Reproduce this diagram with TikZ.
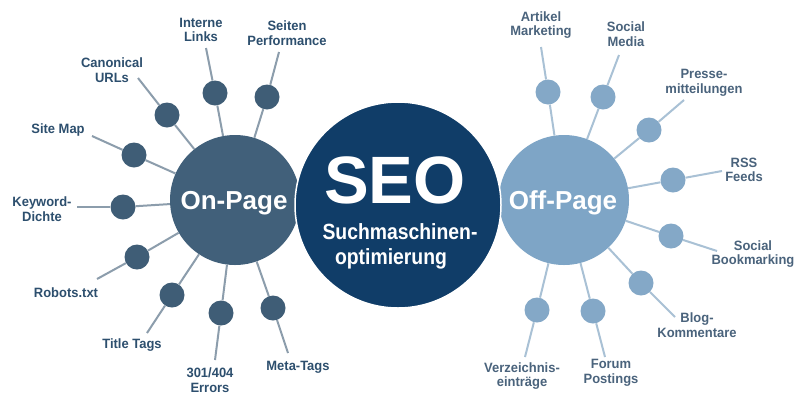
\documentclass[tikz,border=0pt]{standalone}
\usepackage{fontspec}
\setmainfont{Liberation Sans}
\newfontfamily\condfont[FakeStretch=0.88]{Liberation Sans}
\newfontfamily\labfont[FakeStretch=0.96]{Liberation Sans}
\definecolor{seocol}{HTML}{103D68}
\definecolor{oncol}{HTML}{41607A}
\definecolor{offcol}{HTML}{7EA5C6}
\definecolor{onsm}{HTML}{3F5D76}
\definecolor{offsm}{HTML}{84A8C7}
\definecolor{online}{HTML}{8C9DAC}
\definecolor{offline}{HTML}{A9C1D5}
\definecolor{onlab}{HTML}{2D4F6E}
\definecolor{offlab}{HTML}{4A637C}
\begin{document}
\begin{tikzpicture}[x=1pt,y=-1pt,
  bigcirc/.style={circle,inner sep=0pt},
  onsmall/.style={circle,fill=onsm,minimum size=25pt,inner sep=0pt},
  offsmall/.style={circle,fill=offsm,minimum size=25pt,inner sep=0pt},
  onspoke/.style={draw=online,line width=2pt},
  offspoke/.style={draw=offline,line width=2pt},
  lab/.style={font=\labfont\bfseries\fontsize{13.5}{14.5}\selectfont,align=center,inner sep=0pt},
  onlabel/.style={lab,text=onlab},
  offlabel/.style={lab,text=offlab},
  bigtext/.style={text=white,inner sep=0pt,anchor=base}]
\useasboundingbox (0,0) rectangle (800,400);
\fill[white] (0,0) rectangle (800,400);

% main circles
\node[bigcirc,fill=oncol,minimum size=130pt] (on) at (235,200) {};
\node[bigcirc,fill=offcol,minimum size=130pt] (off) at (564,200) {};
\node[bigcirc,fill=seocol,minimum size=206pt,draw=white,line width=1.5pt] (seo) at (398,205) {};

% On-Page spokes
\foreach \n/\sx/\sy/\ex/\ey in {il/215/93/206/48, sp/267/97/279/52, cu/167/115/138/78,
  sm/134/155/92/136, kd/123/207/77/207, rt/137/257/97/279, tt/172/295/147/333,
  er/221/313/215/360, mt/273/308/288/353}{
  \coordinate (e\n) at (\ex,\ey);
  \node[onsmall] (s\n) at (\sx,\sy) {};
  \draw[onspoke] (e\n) -- (s\n);
  \draw[onspoke] (s\n) -- (on);
}
% Off-Page spokes
\foreach \n/\sx/\sy/\ex/\ey in {am/548/92/541/47, so/603/97/619/55, pm/649/130/684/100,
  rs/673/180/722/171, sb/671/236/717/251, bk/641/283/675/317, fp/593/311/605/357,
  ve/537/310/525/357}{
  \coordinate (e\n) at (\ex,\ey);
  \node[offsmall] (s\n) at (\sx,\sy) {};
  \draw[offspoke] (e\n) -- (s\n);
  \draw[offspoke] (s\n) -- (off);
}

% big texts
\node[bigtext,font=\bfseries\fontsize{26}{30}\selectfont] (ontxt) at (234,209) {On-Page};
\node[bigtext,font=\bfseries\fontsize{26}{30}\selectfont] (offtxt) at (563,209) {Off-Page};
\node[bigtext,font=\bfseries\fontsize{67}{70}\selectfont] (seotxt) at (395,203) {SEO};
\node[bigtext,font=\condfont\bfseries\fontsize{22}{25}\selectfont] (suchtxt) at (400,239) {Suchmaschinen-};
\node[bigtext,font=\condfont\bfseries\fontsize{22}{25}\selectfont] (opttxt) at (391,264) {optimierung};

% On-Page labels
\node[onlabel] (lil) at (201,30) {Interne\\Links};
\node[onlabel] (lsp) at (287,33) {Seiten\\Performance};
\node[onlabel] (lcu) at (112,70) {Canonical\\URLs};
\node[onlabel] (lsm) at (58,130) {Site Map};
\node[onlabel] (lkd) at (42,209) {Keyword-\\Dichte};
\node[onlabel] (lrt) at (66,293) {Robots.txt};
\node[onlabel] (ltt) at (132,345) {Title Tags};
\node[onlabel] (ler) at (210,380) {301/404\\Errors};
\node[onlabel] (lmt) at (298,367) {Meta-Tags};

% Off-Page labels
\node[offlabel] (lam) at (541,25) {Artikel\\Marketing};
\node[offlabel] (lso) at (626,34) {Social\\Media};
\node[offlabel] (lpm) at (704,83) {Presse-\\mitteilungen};
\node[offlabel] (lrs) at (744,170) {RSS\\Feeds};
\node[offlabel] (lsb) at (753,254) {Social\\Bookmarking};
\node[offlabel] (lbk) at (697,325) {Blog-\\Kommentare};
\node[offlabel] (lfp) at (611,373) {Forum\\Postings};
\node[offlabel] (lve) at (522,376) {Verzeichnis-\\einträge};
\end{tikzpicture}
\end{document}
